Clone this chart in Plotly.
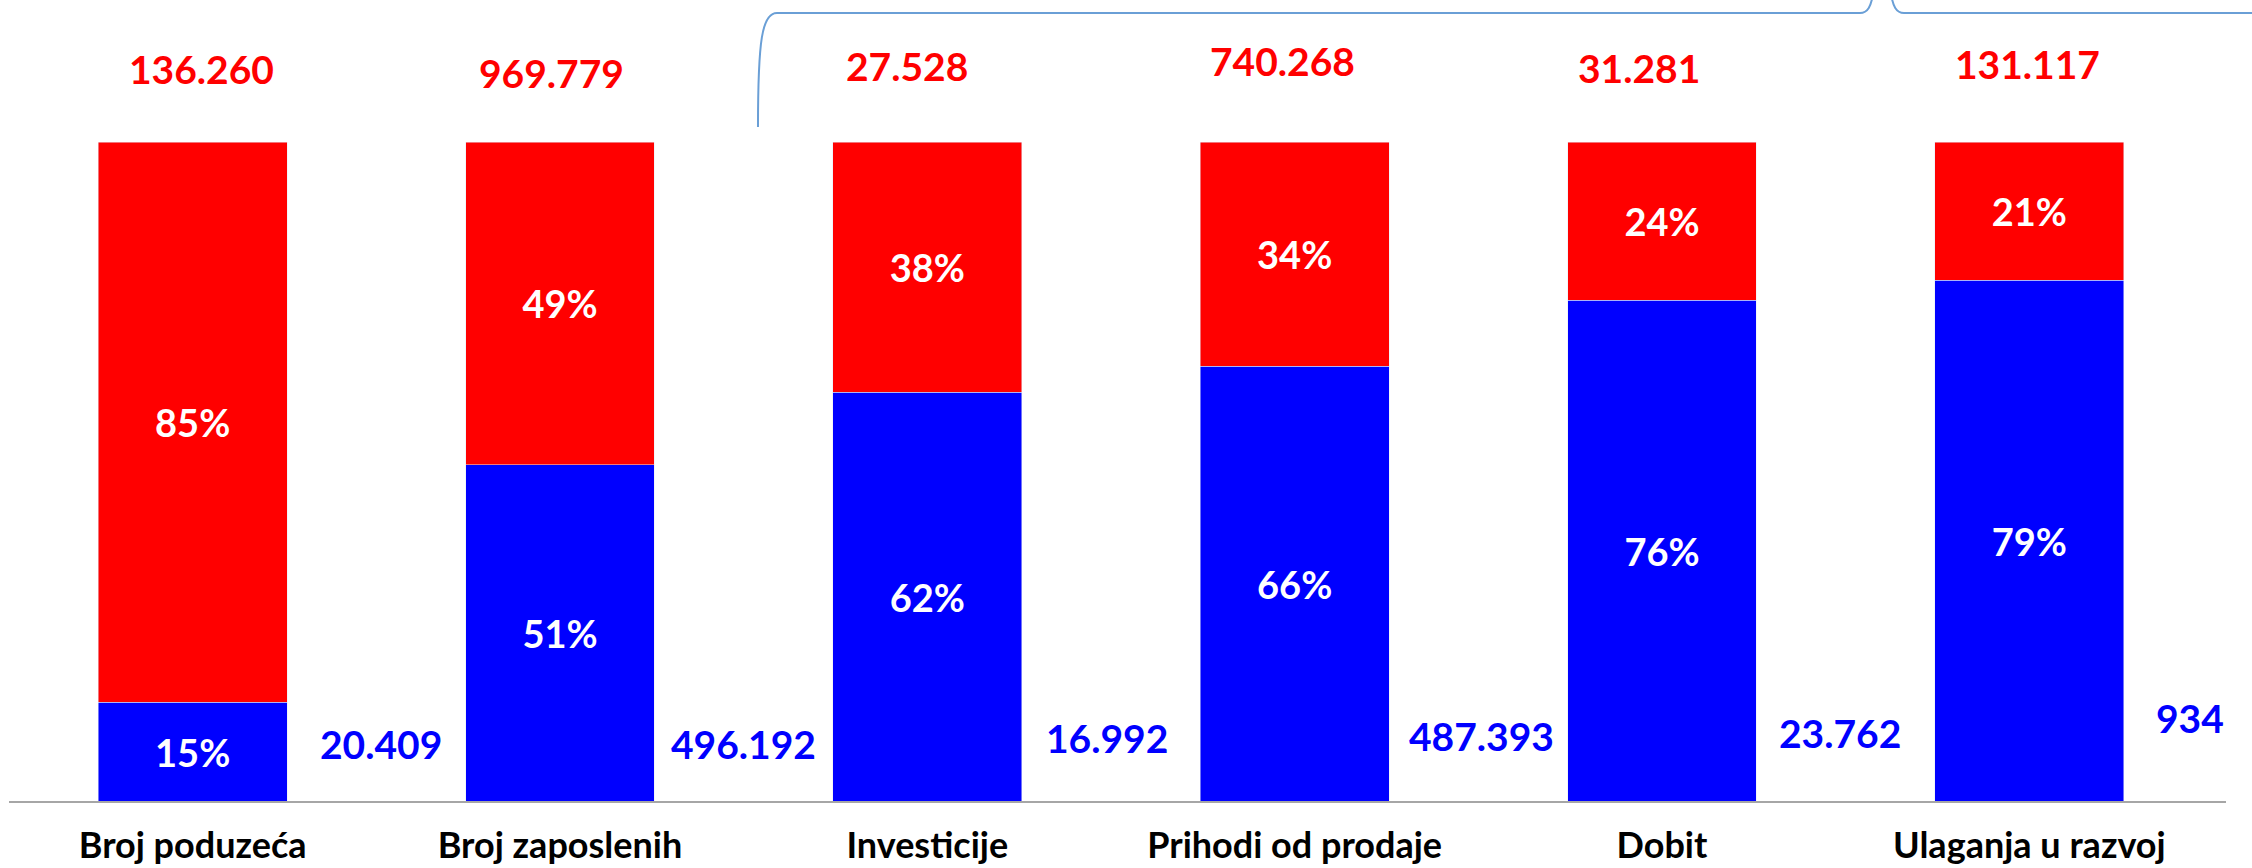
import plotly.graph_objects as go

# ---------------- data ----------------
categories = ["Broj poduzeća", "Broj zaposlenih", "Investicije",
              "Prihodi od prodaje", "Dobit", "Ulaganja u razvoj"]
blue_pct = [15, 51, 62, 66, 76, 79]
red_pct = [85, 49, 38, 34, 24, 21]
total_labels = ["136.260", "969.779", "27.528", "740.268", "31.281", "131.117"]
blue_labels = ["20.409", "496.192", "16.992", "487.393", "23.762", "934"]

# ---------------- layout helpers (pixel geometry of the canvas) ----------------
W, H = 2252, 868
L, R, T, B = 9, 26, 142, 67
PW, PH = W - L - R, H - T - B


def px_x(px):
    return (px - L) / PW


def px_y(py):
    return (H - B - py) / PH


FONT = "Lato"
BLUE = "#0000FF"
RED = "#FF0000"

fig = go.Figure()
fig.add_trace(go.Bar(
    x=categories, y=blue_pct, marker_color=BLUE, width=0.514,
    text=[f"{v}%" for v in blue_pct], textposition="inside",
    insidetextanchor="middle", textangle=0, constraintext="none",
    textfont=dict(family=FONT, size=38, color="white", weight="bold"),
    showlegend=False, hoverinfo="skip"))
fig.add_trace(go.Bar(
    x=categories, y=red_pct, marker_color=RED, width=0.514,
    text=[f"{v}%" for v in red_pct], textposition="inside",
    insidetextanchor="middle", textangle=0, constraintext="none",
    textfont=dict(family=FONT, size=38, color="white", weight="bold"),
    showlegend=False, hoverinfo="skip"))

annotations = []
# totals above bars (red)
red_xshift = [9, -9, -20, -12, -23, -2]
red_ypx = [69, 73, 66, 61, 68, 64]
for i, lab in enumerate(total_labels):
    annotations.append(dict(
        x=i, xref="x", y=px_y(red_ypx[i]), yref="paper", text=lab,
        showarrow=False, xshift=red_xshift[i], xanchor="center", yanchor="middle",
        font=dict(family=FONT, size=39, color=RED, weight="bold")))
# blue values between bars
blue_ypx = [744, 744, 738, 736, 733, 718]
blue_xshift = [5, 0, -4, 3, -6, 0]
for i, lab in enumerate(blue_labels):
    last = i == len(blue_labels) - 1
    annotations.append(dict(
        x=i + 0.5, xref="x", y=px_y(blue_ypx[i]), yref="paper", text=lab,
        showarrow=False, xshift=13 if last else blue_xshift[i],
        xanchor="right" if last else "center", yanchor="middle",
        font=dict(family=FONT, size=39, color=BLUE, weight="bold")))


def P(px, py):
    return f"{px_x(px):.5f},{px_y(py):.5f}"


brace1 = (f"M {P(758,127)} C {P(758,40)} {P(762,13)} {P(777,13)} "
          f"L {P(1860,13)} C {P(1868,13)} {P(1871,6)} {P(1873,-6)}")
brace2 = (f"M {P(1891,-6)} C {P(1893,6)} {P(1896,13)} {P(1904,13)} "
          f"L {P(2260,13)}")
shapes = [
    dict(type="path", xref="paper", yref="paper", path=brace1,
         line=dict(color="#6A9FD6", width=2)),
    dict(type="path", xref="paper", yref="paper", path=brace2,
         line=dict(color="#6A9FD6", width=2)),
]

fig.update_layout(
    width=W, height=H, autosize=False,
    margin=dict(l=L, r=R, t=T, b=B, pad=0, autoexpand=False),
    barmode="stack",
    plot_bgcolor="white", paper_bgcolor="white",
    annotations=annotations, shapes=shapes,
    showlegend=False,
    xaxis=dict(showline=True, linecolor="#A6A6A6", linewidth=2,
               showgrid=False, ticks="", zeroline=False, automargin=False,
               tickfont=dict(family=FONT, size=36, color="black", weight="bold"),
               ticklabelstandoff=12),
    yaxis=dict(range=[0, 100], visible=False, showgrid=False, zeroline=False,
               automargin=False),
)

fig.write_html("out.html",
               config={"displayModeBar": False},
               post_script="document.body.style.margin='0';"
                           "document.body.style.overflow='hidden';")
